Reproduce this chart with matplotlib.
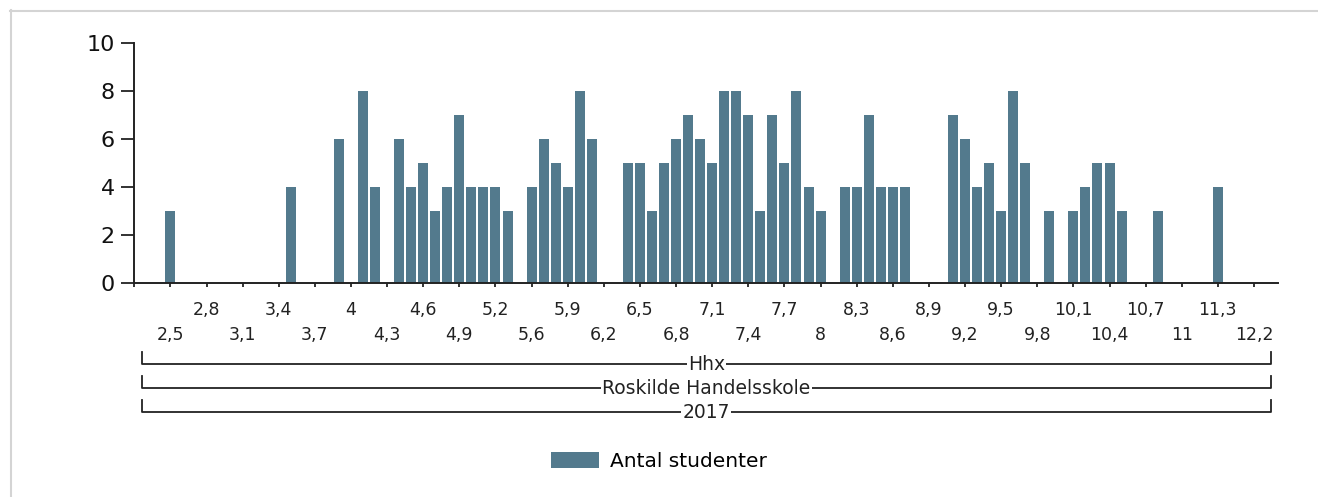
import matplotlib
matplotlib.use("Agg")
import matplotlib.pyplot as plt
from matplotlib.lines import Line2D
from matplotlib.transforms import blended_transform_factory

# karaktergennemsnit (kategorier paa x-aksen)
grades = [2.5, 2.6, 2.7, 2.8, 2.9, 3.0, 3.1, 3.2, 3.3, 3.4,
          3.5, 3.6, 3.7, 3.8, 3.9, 4.0, 4.1, 4.2, 4.3, 4.4,
          4.5, 4.6, 4.7, 4.8, 4.9, 5.0, 5.1, 5.2, 5.3, 5.4,
          5.6, 5.7, 5.8, 5.9, 6.0, 6.1, 6.2, 6.3, 6.4, 6.5,
          6.6, 6.7, 6.8, 6.9, 7.0, 7.1, 7.2, 7.3, 7.4, 7.5,
          7.6, 7.7, 7.8, 7.9, 8.0, 8.1, 8.2, 8.3, 8.4, 8.5,
          8.6, 8.7, 8.8, 8.9, 9.0, 9.1, 9.2, 9.3, 9.4, 9.5,
          9.6, 9.7, 9.8, 9.9, 10.0, 10.1, 10.2, 10.3, 10.4, 10.5,
          10.6, 10.7, 10.8, 10.9, 11.0, 11.1, 11.2, 11.3, 11.5, 11.8,
          12.2]

# antal studenter pr. gennemsnit (0 = ikke vist)
counts = [3, 0, 0, 0, 0, 0, 0, 0, 0, 0,
          4, 0, 0, 0, 6, 0, 8, 4, 0, 6,
          4, 5, 3, 4, 7, 4, 4, 4, 3, 0,
          4, 6, 5, 4, 8, 6, 0, 0, 5, 5,
          3, 5, 6, 7, 6, 5, 8, 8, 7, 3,
          7, 5, 8, 4, 3, 0, 4, 4, 7, 4,
          4, 4, 0, 0, 0, 7, 6, 4, 5, 3,
          8, 5, 0, 3, 0, 3, 4, 5, 5, 3,
          0, 0, 3, 0, 0, 0, 0, 4, 0, 0,
          0]

group_labels = ["Hhx", "Roskilde Handelsskole", "2017"]
series_name = "Antal studenter"

bar_color = "#537a8d"
axis_color = "#222222"


def fmt(g):
    # dansk decimalkomma, heltal uden decimal
    if g == int(g):
        return str(int(g))
    return ("%.1f" % g).replace(".", ",")


plt.rcParams["font.family"] = ["DejaVu Sans"]

fig = plt.figure(figsize=(13.18, 4.97), dpi=100)
ax = fig.add_axes([0.1019, 0.4312, 0.8678, 0.4815])

x = list(range(len(grades)))
ax.bar(x, counts, width=0.83, color=bar_color, label=series_name, zorder=2)

ax.set_xlim(-3, 92)
ax.set_ylim(0, 10)
ax.set_yticks([0, 2, 4, 6, 8, 10])

# to raekker af tick-labels: hver tredje kategori, skiftevis oppe/nede
upper = [i for i in range(3, len(grades), 6)]
lower = [i for i in range(0, len(grades), 6)]
ax.set_xticks(upper)
ax.set_xticklabels([fmt(grades[i]) for i in upper])
ax.set_xticks([-3] + lower, minor=True)
ax.set_xticklabels([""] + [fmt(grades[i]) for i in lower], minor=True)

for side in ["top", "right"]:
    ax.spines[side].set_visible(False)
for side in ["left", "bottom"]:
    ax.spines[side].set_color(axis_color)
    ax.spines[side].set_linewidth(1.4)

ax.tick_params(axis="y", length=9.4, width=1.3, color=axis_color, pad=4.5,
               labelsize=16, labelcolor="#111111")
ax.tick_params(axis="x", which="major", length=3, width=1.3, color=axis_color,
               pad=10, labelsize=12.5, labelcolor="#222222")
ax.tick_params(axis="x", which="minor", length=3, width=1.3, color=axis_color,
               pad=28, labelsize=12.5, labelcolor="#222222")

# gruppe-klammer under aksen
tr = blended_transform_factory(ax.transAxes, fig.transFigure)
x0, x1 = 0.0065, 0.9939
for lab, ypx in zip(group_labels, [364, 388, 412]):
    yb = 1 - ypx / 497
    yt = 1 - (ypx - 12) / 497
    ax.add_line(Line2D([x0, x0, x1, x1], [yt, yb, yb, yt], transform=tr,
                       color=axis_color, lw=1.3, clip_on=False))
    ax.text((x0 + x1) / 2, yb, lab, transform=tr, ha="center", va="center",
            fontsize=13.5, color="#222222",
            bbox=dict(facecolor="white", edgecolor="none", pad=1.0))

# legende
fig.legend(loc="center", bbox_to_anchor=(0.5, 0.072), frameon=False,
           fontsize=14.5, handlelength=2.4, handleheight=0.85,
           handletextpad=0.55)

# lys graa ramme
fig.add_artist(Line2D([10 / 1318, 1], [1 - 11 / 497, 1 - 11 / 497],
                      transform=fig.transFigure, color="#d4d4d4", lw=1.5))
fig.add_artist(Line2D([11 / 1318, 11 / 1318], [0, 1 - 10 / 497],
                      transform=fig.transFigure, color="#d4d4d4", lw=1.5))

fig.savefig("out.png", dpi=100, facecolor="white")
